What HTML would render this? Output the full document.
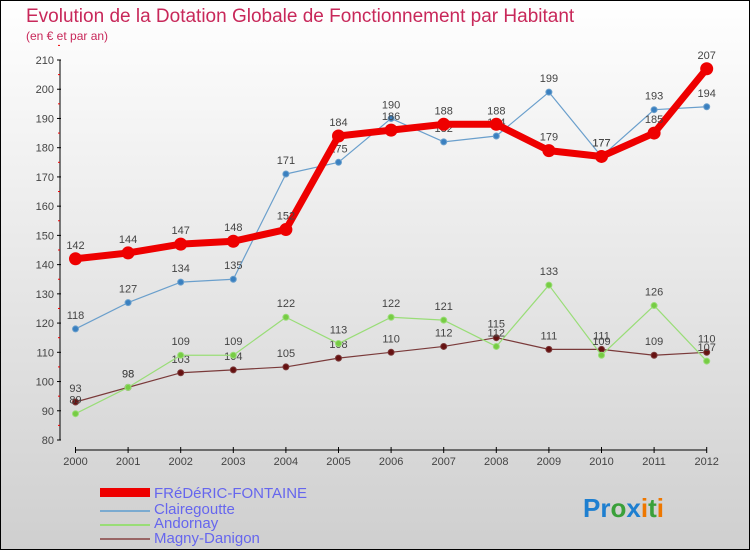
<!DOCTYPE html>
<html><head><meta charset="utf-8"><style>
body{margin:0}
#c{width:750px;height:550px;position:relative;font-family:"Liberation Sans",sans-serif;}
text{font-family:"Liberation Sans",sans-serif}
</style></head><body>
<div id="c">
<svg id="svg" width="750" height="550" xmlns="http://www.w3.org/2000/svg">
<defs><linearGradient id="bg" x1="0" y1="0" x2="0" y2="1"><stop offset="0" stop-color="#ffffff"/><stop offset="1" stop-color="#cfcfcf"/></linearGradient></defs>
<rect x="0.5" y="0.5" width="749" height="549" fill="url(#bg)" stroke="#000"/>
<text x="26" y="22" font-size="19" fill="#c8285a">Evolution de la Dotation Globale de Fonctionnement par Habitant</text>
<text x="26" y="40" font-size="12" fill="#c8285a">(en € et par an)</text>
<g id="axes"></g><g id="series"></g>
<g>
<rect x="100" y="488" width="50" height="9" fill="#ee0000"/>
<text x="154" y="498" font-size="15" fill="#6666ee">FRéDéRIC-FONTAINE</text>
<rect x="100" y="510" width="50" height="2" fill="#7aaad0"/>
<text x="154" y="514" font-size="15" fill="#6666ee">Clairegoutte</text>
<rect x="100" y="524" width="50" height="2" fill="#99dd77"/>
<text x="154" y="528" font-size="15" fill="#6666ee">Andornay</text>
<rect x="100" y="538" width="50" height="2" fill="#996666"/>
<text x="154" y="543" font-size="15" fill="#6666ee">Magny-Danigon</text>
</g>
<text x="583" y="517" font-size="26" font-weight="bold"><tspan fill="#1e7fd0">Pr</tspan><tspan fill="#3aa03a">o</tspan><tspan fill="#1e7fd0">x</tspan><tspan fill="#ee7700">i</tspan><tspan fill="#3aa03a">t</tspan><tspan fill="#ee7700">i</tspan></text>
</svg></div>
<script>
const years=[2000,2001,2002,2003,2004,2005,2006,2007,2008,2009,2010,2011,2012];
const yTicks=[80,90,100,110,120,130,140,150,160,170,180,190,200,210];
const frederic=[142,144,147,148,152,184,186,188,188,179,177,185,207];
const clairegoutte=[118,127,134,135,171,175,190,182,184,199,177,193,194];
const andornay=[89,98,109,109,122,113,122,121,112,133,109,126,107];
const magny=[93,98,103,104,105,108,110,112,115,111,111,109,110];
const NS="http://www.w3.org/2000/svg";
function X(i){return 75.5+i*52.6;}
function Y(v){return 440-(v-80)*(380/130);}
function mk(t,a,p){const e=document.createElementNS(NS,t);for(const k in a)e.setAttribute(k,a[k]);p.appendChild(e);return e;}
const ax=document.getElementById('axes');
let l=mk('line',{x1:60,y1:Y(210),x2:60,y2:Y(80),stroke:'#000'},ax);


yTicks.forEach(v=>{
 mk('line',{x1:57,y1:Y(v),x2:61,y2:Y(v),stroke:'#000'},ax);
 mk('line',{x1:58,y1:Y(v+5),x2:60,y2:Y(v+5),stroke:'#e00'},ax);
 const t=mk('text',{x:54,y:Y(v)+4,'font-size':11,fill:'#444','text-anchor':'end'},ax);t.textContent=v;
 
 
});
l=mk('line',{x1:X(0),y1:450,x2:X(12),y2:450,stroke:'#000'},ax);


years.forEach((y,i)=>{
 mk('line',{x1:X(i),y1:447,x2:X(i),y2:453,stroke:'#000'},ax);
 const t=mk('text',{x:X(i),y:465,'font-size':11,fill:'#444','text-anchor':'middle'},ax);t.textContent=y;
 
 
});
const sg=document.getElementById('series');
function series(name,data,color,w,r,dot){
 const g=mk('g',{},sg);
 
 
 const p=mk('polyline',{points:data.map((v,i)=>X(i)+','+Y(v)).join(' '),fill:'none',stroke:color,'stroke-width':w,'stroke-linejoin':'round'},g);
 
 
 data.forEach((v,i)=>{
  const c=mk('circle',{cx:X(i),cy:Y(v),r:r,fill:dot,stroke:color,'stroke-width':1},g);
  
  
  const t=mk('text',{x:X(i),y:Y(v)-10,'font-size':11,fill:'#444','text-anchor':'middle'},g);t.textContent=v;
  
  
 });
}
series('magny',magny,'#7a3a3a',1.2,3,'#661111');
series('andornay',andornay,'#99dd77',1.2,3,'#77cc44');
series('clairegoutte',clairegoutte,'#6a9fcc',1.2,3,'#3a80c0');
series('frederic',frederic,'#ee0000',7,6,'#ee0000');
</script>
</body></html>
